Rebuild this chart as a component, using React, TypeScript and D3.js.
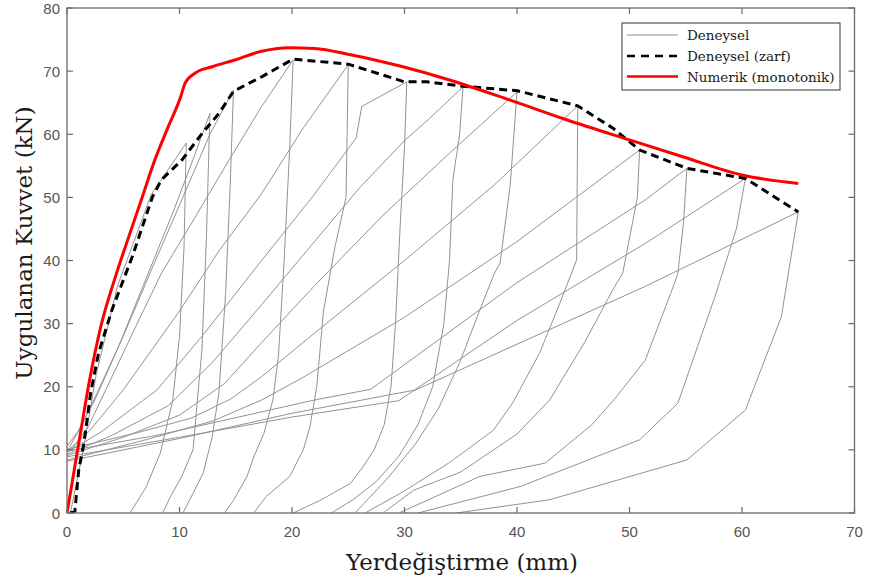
import React from "react";
import * as d3 from "d3";

// ---- axis ticks ----
const xTicks = [0, 10, 20, 30, 40, 50, 60, 70];
const yTicks = [0, 10, 20, 30, 40, 50, 60, 70, 80];

// ---- Numerik (monotonik) ----
const numX = [0, 1.04, 2.0, 3.0, 4.3, 5.5, 6.7, 7.8, 9.0, 10.1, 10.5, 11.4, 12.9, 15.0, 17.2, 19.8, 22, 25.2, 29.6, 34.0, 39.4, 44.4, 50.0, 54.8, 60.1, 65.0];
const numY = [0, 11, 21, 29.5, 37.4, 43.8, 50.1, 55.9, 61.2, 65.9, 68.1, 69.7, 70.7, 71.8, 73.1, 73.7, 73.6, 72.6, 70.8, 68.6, 65.4, 62.3, 59.1, 56.4, 53.5, 52.2];

// ---- Deneysel (zarf) ----
const envX = [0.3, 0.7, 1.04, 1.5, 2.1, 2.8, 4.0, 5.8, 7.6, 8.4, 10.2, 12.0, 13.5, 14.8, 16.2, 17.3, 20.1, 25.0, 30.0, 32.0, 35.2, 40.0, 45.4, 48.5, 50.9, 55.1, 60.3, 65.0];
const envY = [0, 0.3, 6.8, 11, 19, 25.3, 32.2, 40.6, 50.1, 52.8, 55.9, 60.1, 63.3, 66.8, 68.1, 69.1, 71.9, 71.1, 68.3, 68.3, 67.6, 66.9, 64.5, 61, 57.5, 54.6, 53.0, 47.7];

// ---- Deneysel (cycles: reloading then unloading) [x mm, F kN] ----
const cycle1 = [[0.3, 0], [1.5, 10.5], [2.6, 22], [4.5, 36], [7.5, 50.5], [10.6, 58.6], [10.4, 42], [10.0, 28], [9.4, 17.9], [8.3, 9.5], [7.0, 4], [5.6, 0]];
const cycle2 = [[0, 10.6], [1, 13], [2.5, 18], [4.5, 26], [7, 37], [9.5, 48], [11.2, 56], [12.7, 63.3], [12.4, 44], [12.0, 26], [11.2, 10], [10.2, 5.8], [9.2, 2.6], [8.5, 0]];
const cycle3 = [[0.2, 10.4], [1.2, 13.5], [2.8, 19.5], [5, 28], [7.5, 38.5], [10.3, 50], [12.7, 60], [14.8, 67], [14.5, 51.7], [14.1, 34.8], [13.5, 19], [12.9, 12], [12.1, 6.3], [11.2, 3.1], [10.3, 0]];
const cycle4 = [[0.4, 10], [1.9, 13.7], [4, 21.6], [6.1, 29.5], [8.4, 38], [11.4, 46.9], [14.4, 55.9], [17.3, 64.4], [20.1, 71.8], [19.8, 58], [19.3, 40], [18.8, 25], [18.3, 17.9], [17.5, 12.6], [16.6, 8.9], [16, 5.8], [14.8, 2], [14, 0]];
const cycle5 = [[0, 9.8], [2, 13], [5, 19.5], [10, 32], [13.5, 41.5], [17.3, 50.6], [21, 61], [25, 71], [24.9, 60], [24.8, 50], [23.8, 42], [22.8, 32], [22.2, 20], [21.6, 13.7], [21, 10], [19.8, 5.8], [17.7, 2.6], [16.6, 0]];
const cycle6 = [[0, 9.6], [3, 12.8], [8, 19.5], [12, 28], [17.3, 40], [22, 50.5], [25.7, 59.4], [26.2, 64.4], [30.2, 68.3], [30, 58], [29.6, 45], [29.2, 30], [28.8, 20], [28.2, 14], [27.3, 10], [26.3, 7.3], [25.2, 4.7], [22.5, 2], [20.1, 0]];
const cycle7 = [[0, 9.3], [4, 12.3], [9, 17], [13, 24], [17.3, 33], [22, 43], [26, 51.5], [30, 59], [32.1, 62.3], [35.2, 67.5], [34.9, 60], [34.3, 52.8], [34.0, 40], [33.5, 30], [32.5, 20], [31.2, 14], [29.5, 9], [27.5, 5], [25.5, 2.2], [23.5, 0]];
const cycle8 = [[0, 9.1], [5, 12], [10, 15.5], [14, 20.5], [17.3, 27], [22, 36], [28, 47], [34, 57], [40, 66.7], [39.4, 52], [38.5, 39.6], [38, 38], [36.7, 32.2], [34.9, 23.8], [33, 16.5], [31, 11], [28.5, 5.5], [25.6, 0]];
const cycle9 = [[0, 10.1], [6, 12.6], [11, 15], [14.5, 18], [17.3, 21.6], [22, 28.5], [30, 40], [38, 52], [45.4, 64.5], [45.3, 40.1], [43.8, 33.2], [42, 25.3], [39.6, 17.4], [37.9, 13.1], [34, 8], [30, 3.5], [26.5, 0]];
const cycle10 = [[0, 8.4], [7, 11.6], [13, 14.6], [17.3, 17.9], [21, 21.5], [30, 31], [40, 43], [50.9, 57.5], [50.7, 50], [49.4, 38], [48.5, 35.3], [46, 27], [42.9, 17.9], [40, 12.5], [35, 6.5], [30.8, 3.6], [28.1, 0]];
const cycle11 = [[0, 9.8], [8, 12.3], [16, 15.5], [22, 17.9], [27, 19.6], [40, 36.5], [51.4, 49.6], [55.1, 54.6], [54.8, 46], [54.3, 38], [54, 36.4], [51.4, 24.2], [48.6, 17.9], [46.6, 13.9], [42.5, 7.9], [36.7, 5.8], [32, 2], [29.5, 0]];
const cycle12 = [[0, 8.9], [10, 12], [20, 15.2], [29.5, 17.8], [40, 30.5], [51.4, 42.7], [60.3, 53], [59.5, 45], [57.6, 34.3], [54.3, 17.4], [50.9, 11.6], [40.3, 4.2], [31.2, 0]];
const cycle13 = [[0, 8.2], [10, 11.8], [20, 15.8], [31, 19.5], [51.4, 35.9], [65, 47.7], [63.5, 31.1], [60.3, 16.3], [55.1, 8.4], [42.9, 2.1], [34.6, 0]];
const cycles = [cycle1, cycle2, cycle3, cycle4, cycle5, cycle6, cycle7, cycle8, cycle9, cycle10, cycle11, cycle12, cycle13];

const legendLabels = ["Deneysel", "Deneysel (zarf)", "Numerik (monotonik)"];

const W = 869;
const H = 583;
const M = { left: 67, right: 14.5, top: 8, bottom: 70 };

export default function App() {
  const x = d3.scaleLinear().domain([0, 70]).range([M.left, W - M.right]);
  const y = d3.scaleLinear().domain([0, 80]).range([H - M.bottom, M.top]);
  const line = d3.line<number[]>().x((d) => x(d[0])).y((d) => y(d[1]));
  const numLine = d3.line<number>().x((d, i) => x(numX[i])).y((d) => y(d)).curve(d3.curveMonotoneX);
  const envLine = d3.line<number>().x((d, i) => x(envX[i])).y((d) => y(d));
  const x0 = x(0), x1 = x(70), y0 = y(0), y1 = y(80);
  const axisColor = "#6b6b6b";
  const tickFont = "'Liberation Sans', Arial, sans-serif";
  const serif = "'DejaVu Serif', serif";
  const lg = { x: 622, y: 23, w: 218, h: 67 };
  const rows = [35, 56, 76.5];

  return (
    <svg width={W} height={H} style={{ position: "absolute", left: 0, top: 0, background: "#fff" }}>
      <defs>
        <clipPath id="plot">
          <rect x={x0} y={y1} width={x1 - x0} height={y0 - y1} />
        </clipPath>
      </defs>
      <rect x={0} y={0} width={W} height={H} fill="#fff" />
      <g clipPath="url(#plot)">
        {cycles.map((c, i) => (
          <path key={i} d={line(c as number[][]) || ""} fill="none" stroke="#939393" strokeWidth={1} />
        ))}
        <path d={envLine(envY) || ""} fill="none" stroke="#000" strokeWidth={3} strokeDasharray="8,5" />
        <path d={numLine(numY) || ""} fill="none" stroke="#ff0000" strokeWidth={3} />
      </g>
      <rect x={x0} y={y1} width={x1 - x0} height={y0 - y1} fill="none" stroke={axisColor} strokeWidth={1.3} />
      {xTicks.map((t) => (
        <g key={"x" + t}>
          <line x1={x(t)} x2={x(t)} y1={y0} y2={y0 - 6} stroke={axisColor} strokeWidth={1.2} />
          <line x1={x(t)} x2={x(t)} y1={y1} y2={y1 + 6} stroke={axisColor} strokeWidth={1.2} />
          <text x={x(t)} y={537} textAnchor="middle" fontFamily={tickFont} fontSize={15} fill="#555">{t}</text>
        </g>
      ))}
      {yTicks.map((t) => (
        <g key={"y" + t}>
          <line x1={x0} x2={x0 + 6} y1={y(t)} y2={y(t)} stroke={axisColor} strokeWidth={1.2} />
          <line x1={x1} x2={x1 - 6} y1={y(t)} y2={y(t)} stroke={axisColor} strokeWidth={1.2} />
          <text x={60} y={y(t) + 5.5} textAnchor="end" fontFamily={tickFont} fontSize={15} fill="#555">{t}</text>
        </g>
      ))}
      <text x={462} y={570} textAnchor="middle" fontFamily={serif} fontSize={23} fill="#1a1a1a">Yerdeğiştirme (mm)</text>
      <text transform="translate(32,243) rotate(-90)" textAnchor="middle" fontFamily={serif} fontSize={23} fill="#1a1a1a">Uygulanan Kuvvet (kN)</text>
      <rect x={lg.x} y={lg.y} width={lg.w} height={lg.h} fill="#fff" stroke="#333" strokeWidth={1} />
      <line x1={627} x2={678} y1={rows[0]} y2={rows[0]} stroke="#b5b5b5" strokeWidth={1.5} />
      <line x1={627} x2={678} y1={rows[1]} y2={rows[1]} stroke="#000" strokeWidth={2.5} strokeDasharray="8,6" />
      <line x1={627} x2={678} y1={rows[2]} y2={rows[2]} stroke="#ff0000" strokeWidth={2.5} />
      {legendLabels.map((l, i) => (
        <text key={l} x={687} y={rows[i] + 5} fontFamily={serif} fontSize={13.5} fill="#1a1a1a">{l}</text>
      ))}
    </svg>
  );
}
